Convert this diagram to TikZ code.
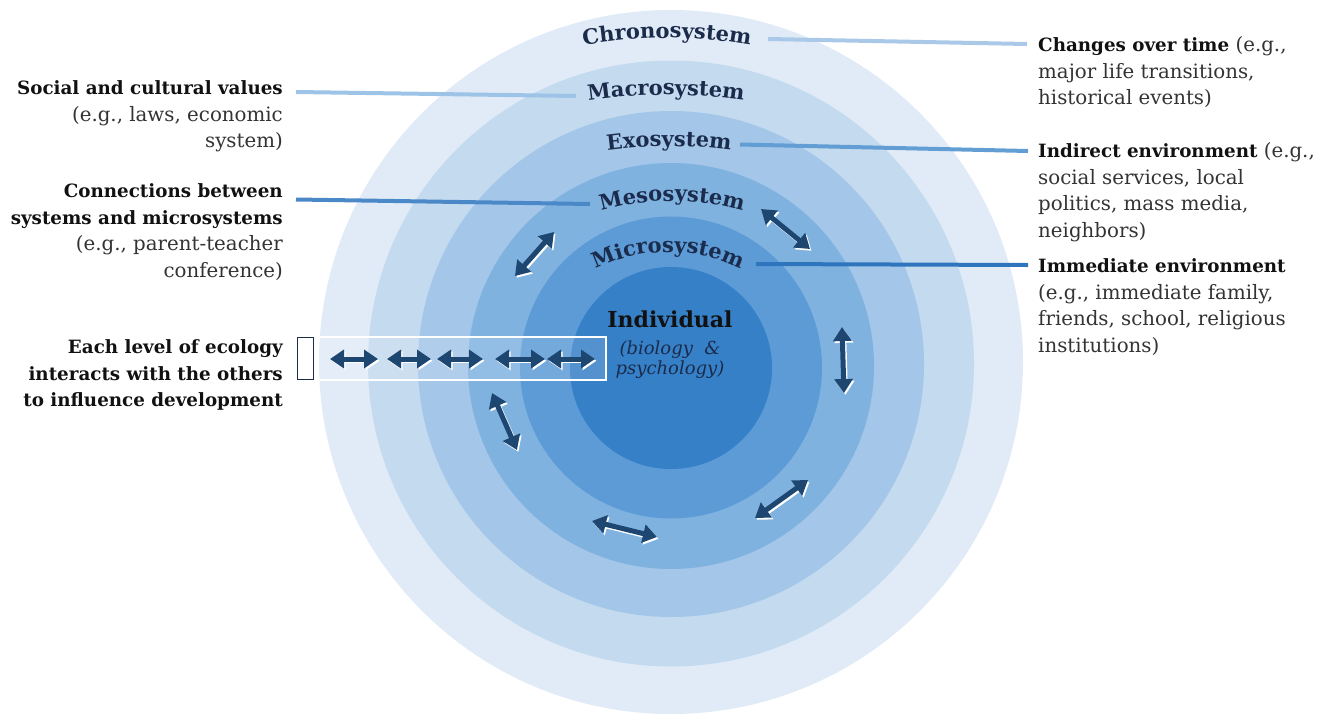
\documentclass[tikz,border=0pt]{standalone}
\usepackage{fontspec}
\setmainfont{DejaVu Serif}
\usetikzlibrary{arrows.meta,decorations.text,positioning}
\definecolor{ringchrono}{RGB}{224,235,247}
\definecolor{ringmacro}{RGB}{196,218,239}
\definecolor{ringexo}{RGB}{163,198,233}
\definecolor{ringmeso}{RGB}{128,178,224}
\definecolor{ringmicro}{RGB}{92,155,214}
\definecolor{ringself}{RGB}{53,128,199}
\definecolor{navy}{RGB}{27,43,76}
\definecolor{arrownavy}{RGB}{29,70,112}
\definecolor{bodygray}{RGB}{51,51,51}
\definecolor{titleblack}{RGB}{17,17,17}
\definecolor{linkchrono}{RGB}{170,201,232}
\definecolor{linkmacro}{RGB}{157,195,230}
\definecolor{linkexo}{RGB}{98,157,212}
\definecolor{linkmeso}{RGB}{74,136,200}
\definecolor{linkmicro}{RGB}{46,117,189}
\newcommand{\sidehead}[1]{\textcolor{titleblack}{\fontsize{18.3}{26.5}\selectfont\bfseries #1}}

\begin{document}
\begin{tikzpicture}[x=1pt,y=-1pt,side/.style={inner sep=0pt,font=\fontsize{19.8}{26.5}\selectfont,text=bodygray},link/.style={line width=4pt},interact/.style={line width=5pt,{Triangle[length=14pt,width=18pt]}-{Triangle[length=14pt,width=18pt]}},ringlabel/.style={decorate,decoration={text along path,text align=center,text={|\fontsize{21}{21}\selectfont\bfseries\color{navy}|#1}}}]
\useasboundingbox (0,0) rectangle (1327,715);
\begin{scope}
\clip (0,0) rectangle (1327,715);
\foreach \r/\cy/\col in {352/362/ringchrono,303/363.5/ringmacro,253/364/ringexo,203/366/ringmeso,151/367.5/ringmicro,101/368/ringself}
  \fill[\col] (671,\cy) circle[radius=\r];
\end{scope}
\foreach \name/\xc/\yb/\R in {Chronosystem/667/38/480,Macrosystem/666/95/560,Exosystem/669/146/460,Mesosystem/672/201/260,Microsystem/668/252/165}
  \path[ringlabel/.expanded=\name] (\xc,\yb+\R) ++(230:\R) arc[start angle=230,end angle=310,radius=\R];
\node[inner sep=0pt,font=\fontsize{22}{24}\selectfont\bfseries,text=titleblack,anchor=base] (self) at (670,327) {Individual};
\node[inner sep=0pt,font=\fontsize{18}{20}\selectfont\itshape,text=navy,align=center,below=13pt of self] (selfnote) {(biology~~\&\\psychology)};
\node[draw=white,line width=2pt,fill=white,fill opacity=0.15,minimum width=290,minimum height=43,inner sep=0pt] (ecobox) at (461,358.5) {};
\node[draw=navy,line width=1pt,fill=white,minimum width=16,minimum height=42,inner sep=0pt] (ecotab) at (305.5,358) {};
\foreach \xa/\ya/\xb/\yb [count=\i] in {761/209/810/249,554/232/515/276,842/327/844/393,492/393/517/450,808/480/755/518,592/521/657/537,330/359/378/359,387/359/431/359,437/359/483/359,495/359/545/359,547/359/595/359}{
  \coordinate (tie\i a) at (\xa,\ya);
  \coordinate (tie\i b) at (\xb,\yb);
  \draw[interact,white,transform canvas={shift={(1.5pt,-1.8pt)}}] (tie\i a) -- (tie\i b);
  \draw[interact,arrownavy] (tie\i a) -- (tie\i b);
}
\node[side,anchor=north east,align=right] (values) at (283,80.5) {\sidehead{Social and cultural values}\\(e.g., laws, economic\\system)};
\node[side,anchor=north east,align=right] (links) at (283,183.5) {\sidehead{Connections between}\\\sidehead{systems and microsystems}\\(e.g., parent-teacher\\conference)};
\node[side,anchor=north east,align=right] (levels) at (283,339.5) {\sidehead{Each level of ecology}\\\sidehead{interacts with the others}\\\sidehead{to influence development}};
\node[side,anchor=north west,align=left] (time) at (1038,36.5) {\sidehead{Changes over time} (e.g.,\\major life transitions,\\historical events)};
\node[side,anchor=north west,align=left] (indirect) at (1038,142.5) {\sidehead{Indirect environment} (e.g.,\\social services, local\\politics, mass media,\\neighbors)};
\node[side,anchor=north west,align=left] (immediate) at (1038,258.5) {\sidehead{Immediate environment}\\(e.g., immediate family,\\friends, school, religious\\institutions)};
\coordinate (chronoIn) at (768,39);
\coordinate (chronoOut) at (1027,44);
\coordinate (macroIn) at (576,96);
\coordinate (macroOut) at (296,92);
\coordinate (exoIn) at (740,144.5);
\coordinate (exoOut) at (1028,151);
\coordinate (mesoIn) at (590,204);
\coordinate (mesoOut) at (296,199.5);
\coordinate (microIn) at (756,264);
\coordinate (microOut) at (1028,265);
\draw[link,linkchrono] (chronoIn) -- (chronoOut);
\draw[link,linkmacro] (macroIn) -- (macroOut);
\draw[link,linkexo] (exoIn) -- (exoOut);
\draw[link,linkmeso] (mesoIn) -- (mesoOut);
\draw[link,linkmicro] (microIn) -- (microOut);
\end{tikzpicture}
\end{document}
